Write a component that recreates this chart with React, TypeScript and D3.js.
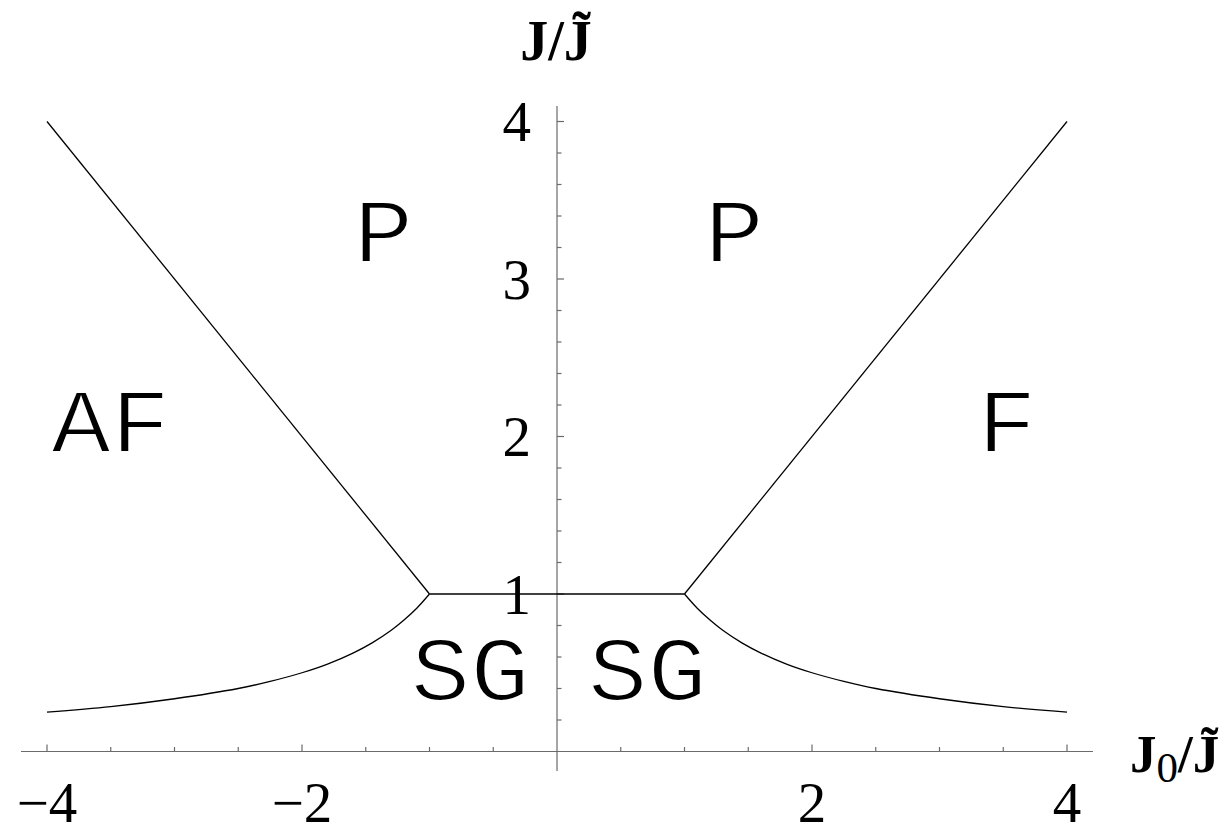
import React from "react";
import * as d3 from "d3";

// Phase boundaries in the (J0/J~, J/J~) plane
const afBoundaryJ0 = [-4, -1];
const afBoundaryJ = [4, 1];
const fBoundaryJ0 = [1, 4];
const fBoundaryJ = [1, 4];
const plateauJ0 = [-1, 1];
const plateauJ = [1, 1];
const sgLeftJ0 = [-4, -3.5, -3, -2.5, -2.25, -2, -1.8, -1.6, -1.45, -1.3, -1.2, -1.1, -1];
const sgLeftJ = [0.25, 0.285, 0.335, 0.4, 0.445, 0.5, 0.555, 0.625, 0.69, 0.77, 0.835, 0.91, 1];
const sgRightJ0 = [1, 1.1, 1.2, 1.3, 1.45, 1.6, 1.8, 2, 2.25, 2.5, 3, 3.5, 4];
const sgRightJ = [1, 0.91, 0.835, 0.77, 0.69, 0.625, 0.555, 0.5, 0.445, 0.4, 0.335, 0.285, 0.25];

// Ticks
const xMajorTicks = [-4, -2, 2, 4];
const xMajorLabels = ["\u22124", "\u22122", "2", "4"];
const xMinorTicks = [-3.5, -3, -2.5, -1.5, -1, -0.5, 0.5, 1, 1.5, 2.5, 3, 3.5];
const yMajorTicks = [1, 2, 3, 4];
const yMajorLabels = ["1", "2", "3", "4"];
const yMinorTicks = [0.2, 0.4, 0.6, 0.8, 1.2, 1.4, 1.6, 1.8, 2.2, 2.4, 2.6, 2.8, 3.2, 3.4, 3.6, 3.8];

// Region names, anchored at their baseline centre
const regionNames = ["P", "P", "AF", "F", "SG", "SG"];
const regionJ0 = [-1.36, 1.39, -3.5, 3.53, -0.68, 0.71];
const regionJ = [3.11, 3.11, 1.9, 1.9, 0.33, 0.33];

const W = 1227;
const H = 834;

export default function App() {
  const x = d3.scaleLinear().domain([-4, 4]).range([47, 1067]);
  const y = d3.scaleLinear().domain([0, 4]).range([751.5, 121.5]);

  const line = d3
    .line<[number, number]>()
    .x((d) => x(d[0]))
    .y((d) => y(d[1]));
  const smooth = d3
    .line<[number, number]>()
    .x((d) => x(d[0]))
    .y((d) => y(d[1]))
    .curve(d3.curveCatmullRom.alpha(0.5));

  const zip = (a: number[], b: number[]) => a.map((v, i) => [v, b[i]] as [number, number]);

  const axisColor = "#6b6b6b";
  const serif = "'Liberation Serif', 'Times New Roman', serif";
  const mono = "'Liberation Mono', 'DejaVu Sans Mono', monospace";

  return (
    <svg
      width={W}
      height={H}
      style={{ position: "absolute", left: 0, top: 0, background: "#fff" }}
    >
      {/* axes */}
      <line x1={21} x2={1093} y1={y(0)} y2={y(0)} stroke={axisColor} strokeWidth={1.2} />
      <line x1={x(0)} x2={x(0)} y1={106} y2={771} stroke={axisColor} strokeWidth={1.2} />

      {xMajorTicks.map((t) => (
        <line key={"xM" + t} x1={x(t)} x2={x(t)} y1={y(0)} y2={y(0) - 7} stroke={axisColor} strokeWidth={1.2} />
      ))}
      {xMinorTicks.map((t) => (
        <line key={"xm" + t} x1={x(t)} x2={x(t)} y1={y(0)} y2={y(0) - 4.5} stroke={axisColor} strokeWidth={1.2} />
      ))}
      {yMajorTicks.map((t) => (
        <line key={"yM" + t} x1={x(0)} x2={x(0) + 7} y1={y(t)} y2={y(t)} stroke={axisColor} strokeWidth={1.2} />
      ))}
      {yMinorTicks.map((t) => (
        <line key={"ym" + t} x1={x(0)} x2={x(0) + 4.5} y1={y(t)} y2={y(t)} stroke={axisColor} strokeWidth={1.2} />
      ))}

      {xMajorTicks.map((t, i) => (
        <text
          key={"xl" + t}
          x={x(t)}
          y={822}
          textAnchor="middle"
          fontFamily={serif}
          fontSize={57}
          fill="#000"
        >
          {xMajorLabels[i]}
        </text>
      ))}
      {yMajorTicks.map((t, i) => (
        <text
          key={"yl" + t}
          x={531}
          y={y(t)}
          dy="0.35em"
          textAnchor="end"
          fontFamily={serif}
          fontSize={57}
          fill="#000"
        >
          {yMajorLabels[i]}
        </text>
      ))}

      {/* axis titles */}
      <text x={556} y={60} textAnchor="middle" fontFamily={serif} fontSize={56} fontWeight="bold" fill="#000">
        {"J/J\u0303"}
      </text>
      <text x={1130} y={772} fontFamily={serif} fontSize={53} fill="#000">
        <tspan fontWeight="bold">J</tspan>
        <tspan fontSize={43} dy={10}>0</tspan>
        <tspan fontWeight="bold" dy={-10}>{"/J\u0303"}</tspan>
      </text>

      {/* phase boundaries */}
      <g fill="none" stroke="#000" strokeWidth={1.3}>
        <path d={line(zip(afBoundaryJ0, afBoundaryJ)) || ""} />
        <path d={line(zip(fBoundaryJ0, fBoundaryJ)) || ""} />
        <path d={line(zip(plateauJ0, plateauJ)) || ""} />
        <path d={smooth(zip(sgLeftJ0, sgLeftJ)) || ""} />
        <path d={smooth(zip(sgRightJ0, sgRightJ)) || ""} />
      </g>

      {/* region names */}
      {regionNames.map((n, i) => (
        <text
          key={"r" + i}
          transform={`translate(${x(regionJ0[i])},${y(regionJ[i])}) scale(1.09,1)`}
          textAnchor="middle"
          fontFamily={mono}
          fontSize={91}
          fill="#000"
          stroke="#fff"
          strokeWidth={2}
        >
          {n}
        </text>
      ))}
    </svg>
  );
}
